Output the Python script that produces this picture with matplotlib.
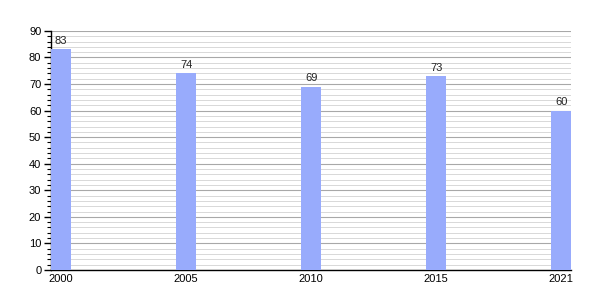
import matplotlib.pyplot as plt
from matplotlib.ticker import MultipleLocator

# data
years = ["2000", "2005", "2010", "2015", "2021"]
values = [83, 74, 69, 73, 60]

plt.rcParams["font.family"] = ["Liberation Sans", "DejaVu Sans"]

fig = plt.figure(figsize=(6, 3), dpi=100)
ax = fig.add_axes([0.085, 0.1, 0.867, 0.797])

x = list(range(len(years)))
ax.bar(x, values, width=0.16, color="#98abfc", zorder=3)

for xi, v in zip(x, values):
    ax.text(xi, v + 1.3, str(v), ha="center", va="bottom", fontsize=8, color="#222222")

ax.set_xlim(-0.08, len(years) - 1 + 0.08)
ax.set_ylim(0, 90)
ax.set_xticks(x)
ax.set_xticklabels(years)
ax.yaxis.set_major_locator(MultipleLocator(10))
ax.yaxis.set_minor_locator(MultipleLocator(2))

ax.grid(axis="y", which="major", color="#a8a8a8", linewidth=0.8, zorder=0)
ax.grid(axis="y", which="minor", color="#d8d8d8", linewidth=0.7, zorder=0)

for s in ["top", "right"]:
    ax.spines[s].set_visible(False)
ax.spines["left"].set_linewidth(1)
ax.spines["bottom"].set_linewidth(1)

ax.tick_params(axis="x", length=0, labelsize=8, pad=3)
ax.tick_params(axis="y", which="major", length=5, width=1, labelsize=8, pad=2)
ax.tick_params(axis="y", which="minor", length=3, width=0.8)

fig.savefig("out.png", dpi=100)
